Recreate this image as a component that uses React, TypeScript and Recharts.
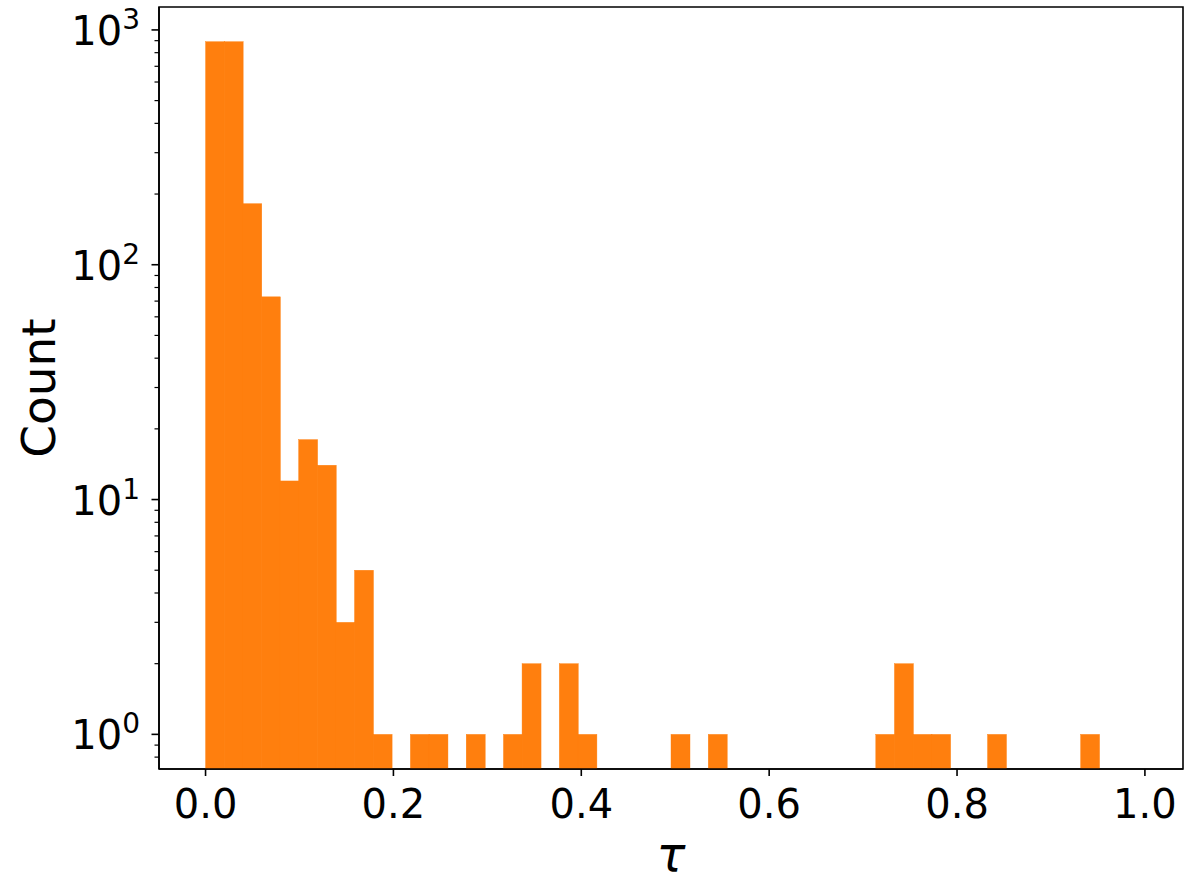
import React from 'react';
import { BarChart, Bar, XAxis, YAxis, ReferenceArea } from 'recharts';

// Histogram definition: 50 equal bins from 0 to ~0.991
const BIN_START = 0;
const BIN_WIDTH = 0.01982;
const BIN_COUNT = 50;

// Counts per bin
const counts: number[] = [
  891, 891, 182, 73, 12, 18, 14, 3, 5, 1,
  0, 1, 1, 0, 1, 0, 1, 2, 0, 2,
  1, 0, 0, 0, 0, 1, 0, 1, 0, 0,
  0, 0, 0, 0, 0, 0, 1, 2, 1, 1,
  0, 0, 1, 0, 0, 0, 0, 1, 0, 0,
];

const xTicks: number[] = [0, 0.2, 0.4, 0.6, 0.8, 1.0];
const yMajorTicks: number[] = [1, 10, 100, 1000];
const yMinorTicks: number[] = [
  0.8, 0.9,
  2, 3, 4, 5, 6, 7, 8, 9,
  20, 30, 40, 50, 60, 70, 80, 90,
  200, 300, 400, 500, 600, 700, 800, 900,
];
const X_DOMAIN: [number, number] = [-0.04955, 1.04055];
const Y_DOMAIN: [number, number] = [0.712, 1252];

const xLabel = 'τ';
const yLabel = 'Count';

const data = counts.slice(0, BIN_COUNT).map((c, i) => ({
  x: BIN_START + (i + 0.5) * BIN_WIDTH,
  count: c > 0 ? c : null,
}));

const FONT = 'DejaVu Sans';
const BAR_COLOR = '#ff7f0e';

const YTick = (props: any) => {
  const { x, y, payload } = props;
  const v = payload.value as number;
  const lg = Math.log10(v);
  const e = Math.round(lg);
  const major = Math.abs(lg - e) < 1e-9;
  return (
    <g>
      <line
        x1={x - (major ? 7.5 : 4.5)}
        x2={x}
        y1={y}
        y2={y}
        stroke="#000"
        strokeWidth={major ? 1.6 : 1.2}
      />
      {major && (
        <text
          x={x - 19}
          y={y + 15}
          textAnchor="end"
          fontSize={40}
          fontFamily={FONT}
          fill="#000"
        >
          10
          <tspan dy={-16} fontSize={28}>
            {String(e)}
          </tspan>
        </text>
      )}
    </g>
  );
};

const BarShape = (p: any) => {
  if (p.value == null || !isFinite(p.y) || !isFinite(p.height) || p.height <= 0) return <g />;
  return (
    <rect
      x={p.x}
      y={p.y}
      width={p.width}
      height={p.height}
      fill={BAR_COLOR}
      stroke={BAR_COLOR}
      strokeWidth={0.4}
    />
  );
};

export default function App() {
  return (
    <div style={{ position: 'absolute', left: 0, top: 0, width: 1200, height: 883, background: '#fff' }}>
      <BarChart
        width={1200}
        height={883}
        data={data}
        margin={{ top: 7, right: 17, bottom: 0, left: 0 }}
        barCategoryGap={0}
        barGap={0}
      >
        <XAxis
          type="number"
          dataKey="x"
          domain={X_DOMAIN}
          allowDataOverflow
          ticks={xTicks}
          interval={0}
          tickFormatter={(v: number) => v.toFixed(1)}
          height={114}
          tickSize={7}
          tickMargin={14}
          tickLine={{ stroke: '#000', strokeWidth: 1.6 }}
          axisLine={{ stroke: '#000', strokeWidth: 1.6 }}
          tick={{ fill: '#000', fontSize: 40, fontFamily: FONT }}
        />
        <YAxis
          type="number"
          scale="log"
          domain={Y_DOMAIN}
          allowDataOverflow
          ticks={[...yMajorTicks, ...yMinorTicks]}
          interval={0}
          width={159}
          tickLine={false}
          tickSize={0}
          tickMargin={0}
          axisLine={{ stroke: '#000', strokeWidth: 1.6 }}
          tick={(p: any) => <YTick {...p} />}
        />
        <Bar dataKey="count" fill={BAR_COLOR} isAnimationActive={false} shape={(p: any) => <BarShape {...p} />} />
        <ReferenceArea
          x1={X_DOMAIN[0]}
          x2={X_DOMAIN[1]}
          y1={Y_DOMAIN[0]}
          y2={Y_DOMAIN[1]}
          fill="none"
          fillOpacity={0}
          stroke="#000"
          strokeWidth={1.6}
          ifOverflow="visible"
        />
      </BarChart>
      <svg
        width={1200}
        height={883}
        style={{ position: 'absolute', left: 0, top: 0, pointerEvents: 'none' }}
      >
        <text
          x={671}
          y={871}
          textAnchor="middle"
          fontSize={48}
          fontStyle="italic"
          fontFamily={FONT}
          fill="#000"
        >
          {xLabel}
        </text>
        <text
          x={55}
          y={388}
          transform="rotate(-90 55 388)"
          textAnchor="middle"
          fontSize={47}
          fontFamily={FONT}
          fill="#000"
        >
          {yLabel}
        </text>
      </svg>
    </div>
  );
}
